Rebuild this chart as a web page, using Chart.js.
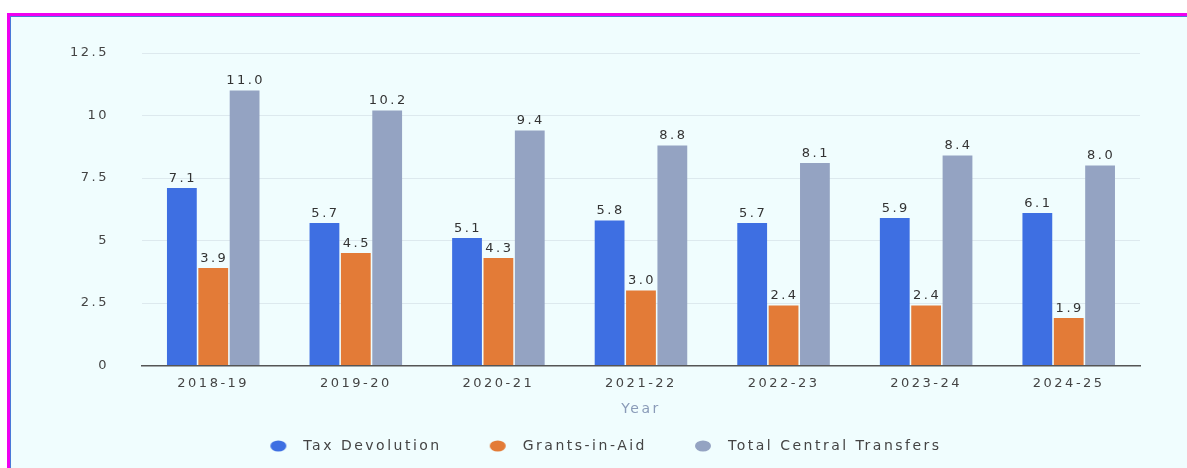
<!DOCTYPE html>
<html>
<head>
<meta charset="utf-8">
<script src="https://cdn.jsdelivr.net/npm/chart.js@4.4.1/dist/chart.umd.min.js"></script>
<style>
  html, body { margin: 0; padding: 0; background: #ffffff; overflow: hidden; }
  #frame {
    position: absolute; left: 7px; top: 13px; width: 1180px; height: 455px;
    border-top: 3px solid #f000f0; border-left: 3px solid #f000f0;
    box-sizing: border-box; background: #f0fdfe; overflow: hidden;
  }
  #inner {
    position: absolute; left: 0; top: 0; right: 0; bottom: 0;
    border-top: 1px solid #4a78d8; border-left: 1px solid #4a78d8;
  }
  #wrap { position: absolute; left: 0; top: 0; width: 1176px; height: 476px; }
</style>
</head>
<body>
<div id="frame"><div id="inner"><div id="wrap"><canvas id="canvas1"></canvas></div></div></div>
<script>
var years = ["2018-19", "2019-20", "2020-21", "2021-22", "2022-23", "2023-24", "2024-25"];
var taxDevolution = [7.1, 5.7, 5.1, 5.8, 5.7, 5.9, 6.1];
var grantsInAid = [3.9, 4.5, 4.3, 3.0, 2.4, 2.4, 1.9];
var totalTransfers = [11.0, 10.2, 9.4, 8.8, 8.1, 8.4, 8.0];

var fontFace = "'DejaVu Sans', Verdana, sans-serif";
var spacing = "2.5px";

// legend marker: a flat dot sitting at the left of a wider transparent box
function legendDot(color) {
    var c = document.createElement("canvas");
    c.width = 27;
    c.height = 12;
    var g = c.getContext("2d");
    g.fillStyle = color;
    g.beginPath();
    g.ellipse(9, 6, 8, 5.5, 0, 0, Math.PI * 2);
    g.fill();
    return c;
}

var wideText = {
    id: 'wideText',
    beforeLayout: function (chart) { chart.ctx.letterSpacing = spacing; },
    beforeDraw: function (chart) { chart.ctx.letterSpacing = spacing; },
    afterLayout: function (chart) {
        // pull the legend up under the axis title and a bit to the right
        var lg = chart.legend;
        lg.top -= 30; lg.bottom -= 30;
        lg.left += 17; lg.right += 17;
    }
};

var valueLabels = {
    id: 'valueLabels',
    afterDatasetsDraw: function (chart) {
        var ctx = chart.ctx;
        ctx.save();
        ctx.letterSpacing = spacing;
        ctx.font = "13px " + fontFace;
        ctx.fillStyle = "#333";
        ctx.textAlign = "center";
        ctx.textBaseline = "bottom";
        chart.data.datasets.forEach(function (ds, i) {
            chart.getDatasetMeta(i).data.forEach(function (bar, j) {
                ctx.fillText(ds.data[j].toFixed(1), bar.x + 1, bar.y - 3);
            });
        });
        ctx.restore();
    }
};

new Chart(document.getElementById("canvas1"), {
    type: 'bar',
    data: {
        labels: years,
        datasets: [{
            label: "Tax Devolution",
            data: taxDevolution,
            backgroundColor: "#3e6fe2",
            pointStyle: legendDot("#3e6fe2")
        }, {
            label: "Grants-in-Aid",
            data: grantsInAid,
            backgroundColor: "#e37b37",
            pointStyle: legendDot("#e37b37")
        }, {
            label: "Total Central Transfers",
            data: totalTransfers,
            backgroundColor: "#94a3c2",
            pointStyle: legendDot("#94a3c2")
        }]
    },
    options: {
        responsive: true,
        maintainAspectRatio: false,
        animation: false,
        layout: { padding: { left: 26, right: 47, top: 36, bottom: 0 } },
        datasets: { bar: { categoryPercentage: 0.66, barPercentage: 0.95 } },
        plugins: {
            tooltip: { enabled: false },
            legend: {
                position: 'bottom',
                labels: {
                    usePointStyle: true,
                    pointStyleWidth: 27,
                    padding: 47,
                    color: "#444",
                    font: { family: fontFace, size: 14 }
                }
            }
        },
        scales: {
            x: {
                grid: { display: false, drawTicks: false },
                border: { display: true, color: "#555", width: 1.5 },
                ticks: { color: "#444", padding: 10, font: { family: fontFace, size: 13 } },
                title: {
                    display: true, text: "Year", color: "#8a9bb8",
                    padding: { top: 0, bottom: 4 },
                    font: { family: fontFace, size: 14 }
                }
            },
            y: {
                min: 0, max: 12.5,
                ticks: {
                    stepSize: 2.5, padding: 33, color: "#444",
                    font: { family: fontFace, size: 13 }
                },
                grid: { color: "#dde9ee", drawTicks: false },
                border: { display: false },
                afterFit: function (scale) {
                    // tick padding should only push the labels sideways
                    scale.paddingTop = 8;
                    scale.paddingBottom = 8;
                }
            }
        }
    },
    plugins: [wideText, valueLabels]
});
</script>
</body>
</html>
